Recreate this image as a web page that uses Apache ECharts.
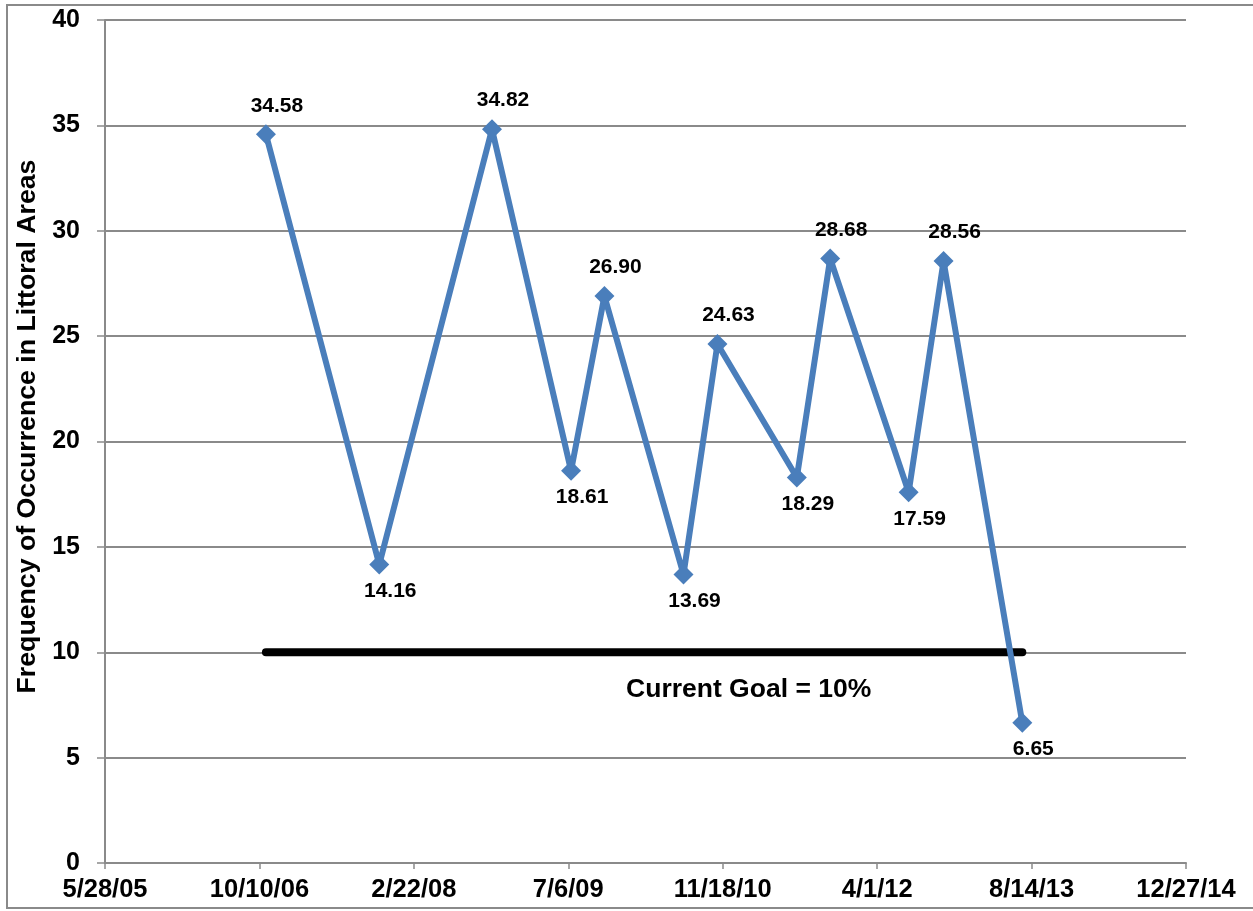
<!DOCTYPE html>
<html>
<head>
<meta charset="utf-8">
<script src="https://cdn.jsdelivr.net/npm/echarts@6/dist/echarts.min.js"></script>
<style>
html,body{margin:0;padding:0;background:#fff;}
#chart{width:1253px;height:911px;}
</style>
</head>
<body>
<div id="chart"></div>
<script>
// sample dates (M/D/YY) and frequency values
var sampleDates = ['10/31/06','11/2/07','11/1/08','7/15/09','10/31/09','7/14/10','11/1/10','7/16/11','11/1/11','7/12/12','11/2/12','7/15/13'];
var freqValues = [34.58,14.16,34.82,18.61,26.90,13.69,24.63,18.29,28.68,17.59,28.56,6.65];
var goalDates = ['10/31/06','7/15/13'];
var goalValues = [10,10];
var goalText = 'Current Goal = 10%';
var goalTextAt = ['2/10/11', 8.2];
var yTitle = 'Frequency of Occurrence in Littoral Areas';

// excel style serial day numbers, so 5/28/05 = 38500
var toSerial = function(s){
	var p = s.split('/');
	var y = 2000 + parseInt(p[2],10);
	return Math.round((Date.UTC(y,parseInt(p[0],10)-1,parseInt(p[1],10)) - Date.UTC(1899,11,30))/86400000);
};
var fromSerial = function(n){
	var d = new Date(Date.UTC(1899,11,30) + n*86400000);
	var yy = String(d.getUTCFullYear()%100);
	if(yy.length<2){yy='0'+yy;}
	return (d.getUTCMonth()+1)+'/'+d.getUTCDate()+'/'+yy;
};

var lineData = [];
for(var i=0;i<sampleDates.length;i++){
	var v = freqValues[i];
	var prev = i>0 ? freqValues[i-1] : freqValues[i+1];
	var next = i<freqValues.length-1 ? freqValues[i+1] : freqValues[i-1];
	var up = v >= (prev+next)/2;
	lineData.push({
		value:[toSerial(sampleDates[i]), v],
		label:{position: up ? 'top' : 'bottom', distance: up ? 8 : 6}
	});
}
var goalData = [];
for(var j=0;j<goalDates.length;j++){
	goalData.push([toSerial(goalDates[j]), goalValues[j]]);
}

var gray = '#8a8a8a';
var font = 'Liberation Sans, Arial, sans-serif';
var chart = echarts.init(document.getElementById('chart'));
var option = {
	backgroundColor:'#fff',
	animation:false,
	graphic:[{
		type:'rect',
		shape:{x:7,y:5,width:1260,height:903},
		style:{fill:'none',stroke:'#8a8a8a',lineWidth:2}
	}],
	grid:{left:105,right:67,top:20,bottom:48,containLabel:false},
	xAxis:{
		type:'value',
		min:38500,
		max:42000,
		interval:500,
		splitLine:{show:false},
		axisLine:{lineStyle:{color:gray,width:2}},
		axisTick:{show:true,length:6,lineStyle:{color:gray,width:1.5}},
		axisLabel:{
			margin:14,
			color:'#000',
			fontFamily:font,
			fontWeight:'bold',
			fontSize:25.5,
			formatter:function(val){ return fromSerial(val); }
		}
	},
	yAxis:{
		type:'value',
		min:0,
		max:40,
		interval:5,
		name:yTitle,
		nameLocation:'middle',
		nameGap:62,
		nameRotate:90,
		nameTextStyle:{color:'#000',fontFamily:font,fontWeight:'bold',fontSize:26.7,padding:[0,0,0,30]},
		axisLine:{show:true,lineStyle:{color:gray,width:2}},
		axisTick:{show:true,length:8,lineStyle:{color:gray,width:1.5}},
		splitLine:{lineStyle:{color:gray,width:2}},
		axisLabel:{
			margin:25,
			color:'#000',
			fontFamily:font,
			fontWeight:'bold',
			fontSize:25
		}
	},
	series:[{
		name:'goal',
		type:'line',
		data:goalData,
		symbol:'none',
		z:3,
		lineStyle:{color:'#000',width:8,cap:'round'},
		markPoint:{
			symbol:'circle',
			symbolSize:2,
			itemStyle:{color:'rgba(0,0,0,0)'},
			data:[{coord:[toSerial(goalTextAt[0]), goalTextAt[1]], value:1}],
			label:{
				show:true,
				position:'inside',
				formatter:goalText,
				color:'#000',
				fontFamily:font,
				fontWeight:'bold',
				fontSize:26.5
			}
		}
	},{
		name:'frequency',
		type:'line',
		data:lineData,
		z:4,
		symbol:'diamond',
		symbolSize:20,
		itemStyle:{color:'#4a7ebb'},
		lineStyle:{color:'#4a7ebb',width:6},
		label:{
			show:true,
			offset:[11,0],
			color:'#000',
			fontFamily:font,
			fontWeight:'bold',
			fontSize:21,
			formatter:function(p){ return p.value[1].toFixed(2); }
		}
	}]
};
chart.setOption(option);
</script>
</body>
</html>
